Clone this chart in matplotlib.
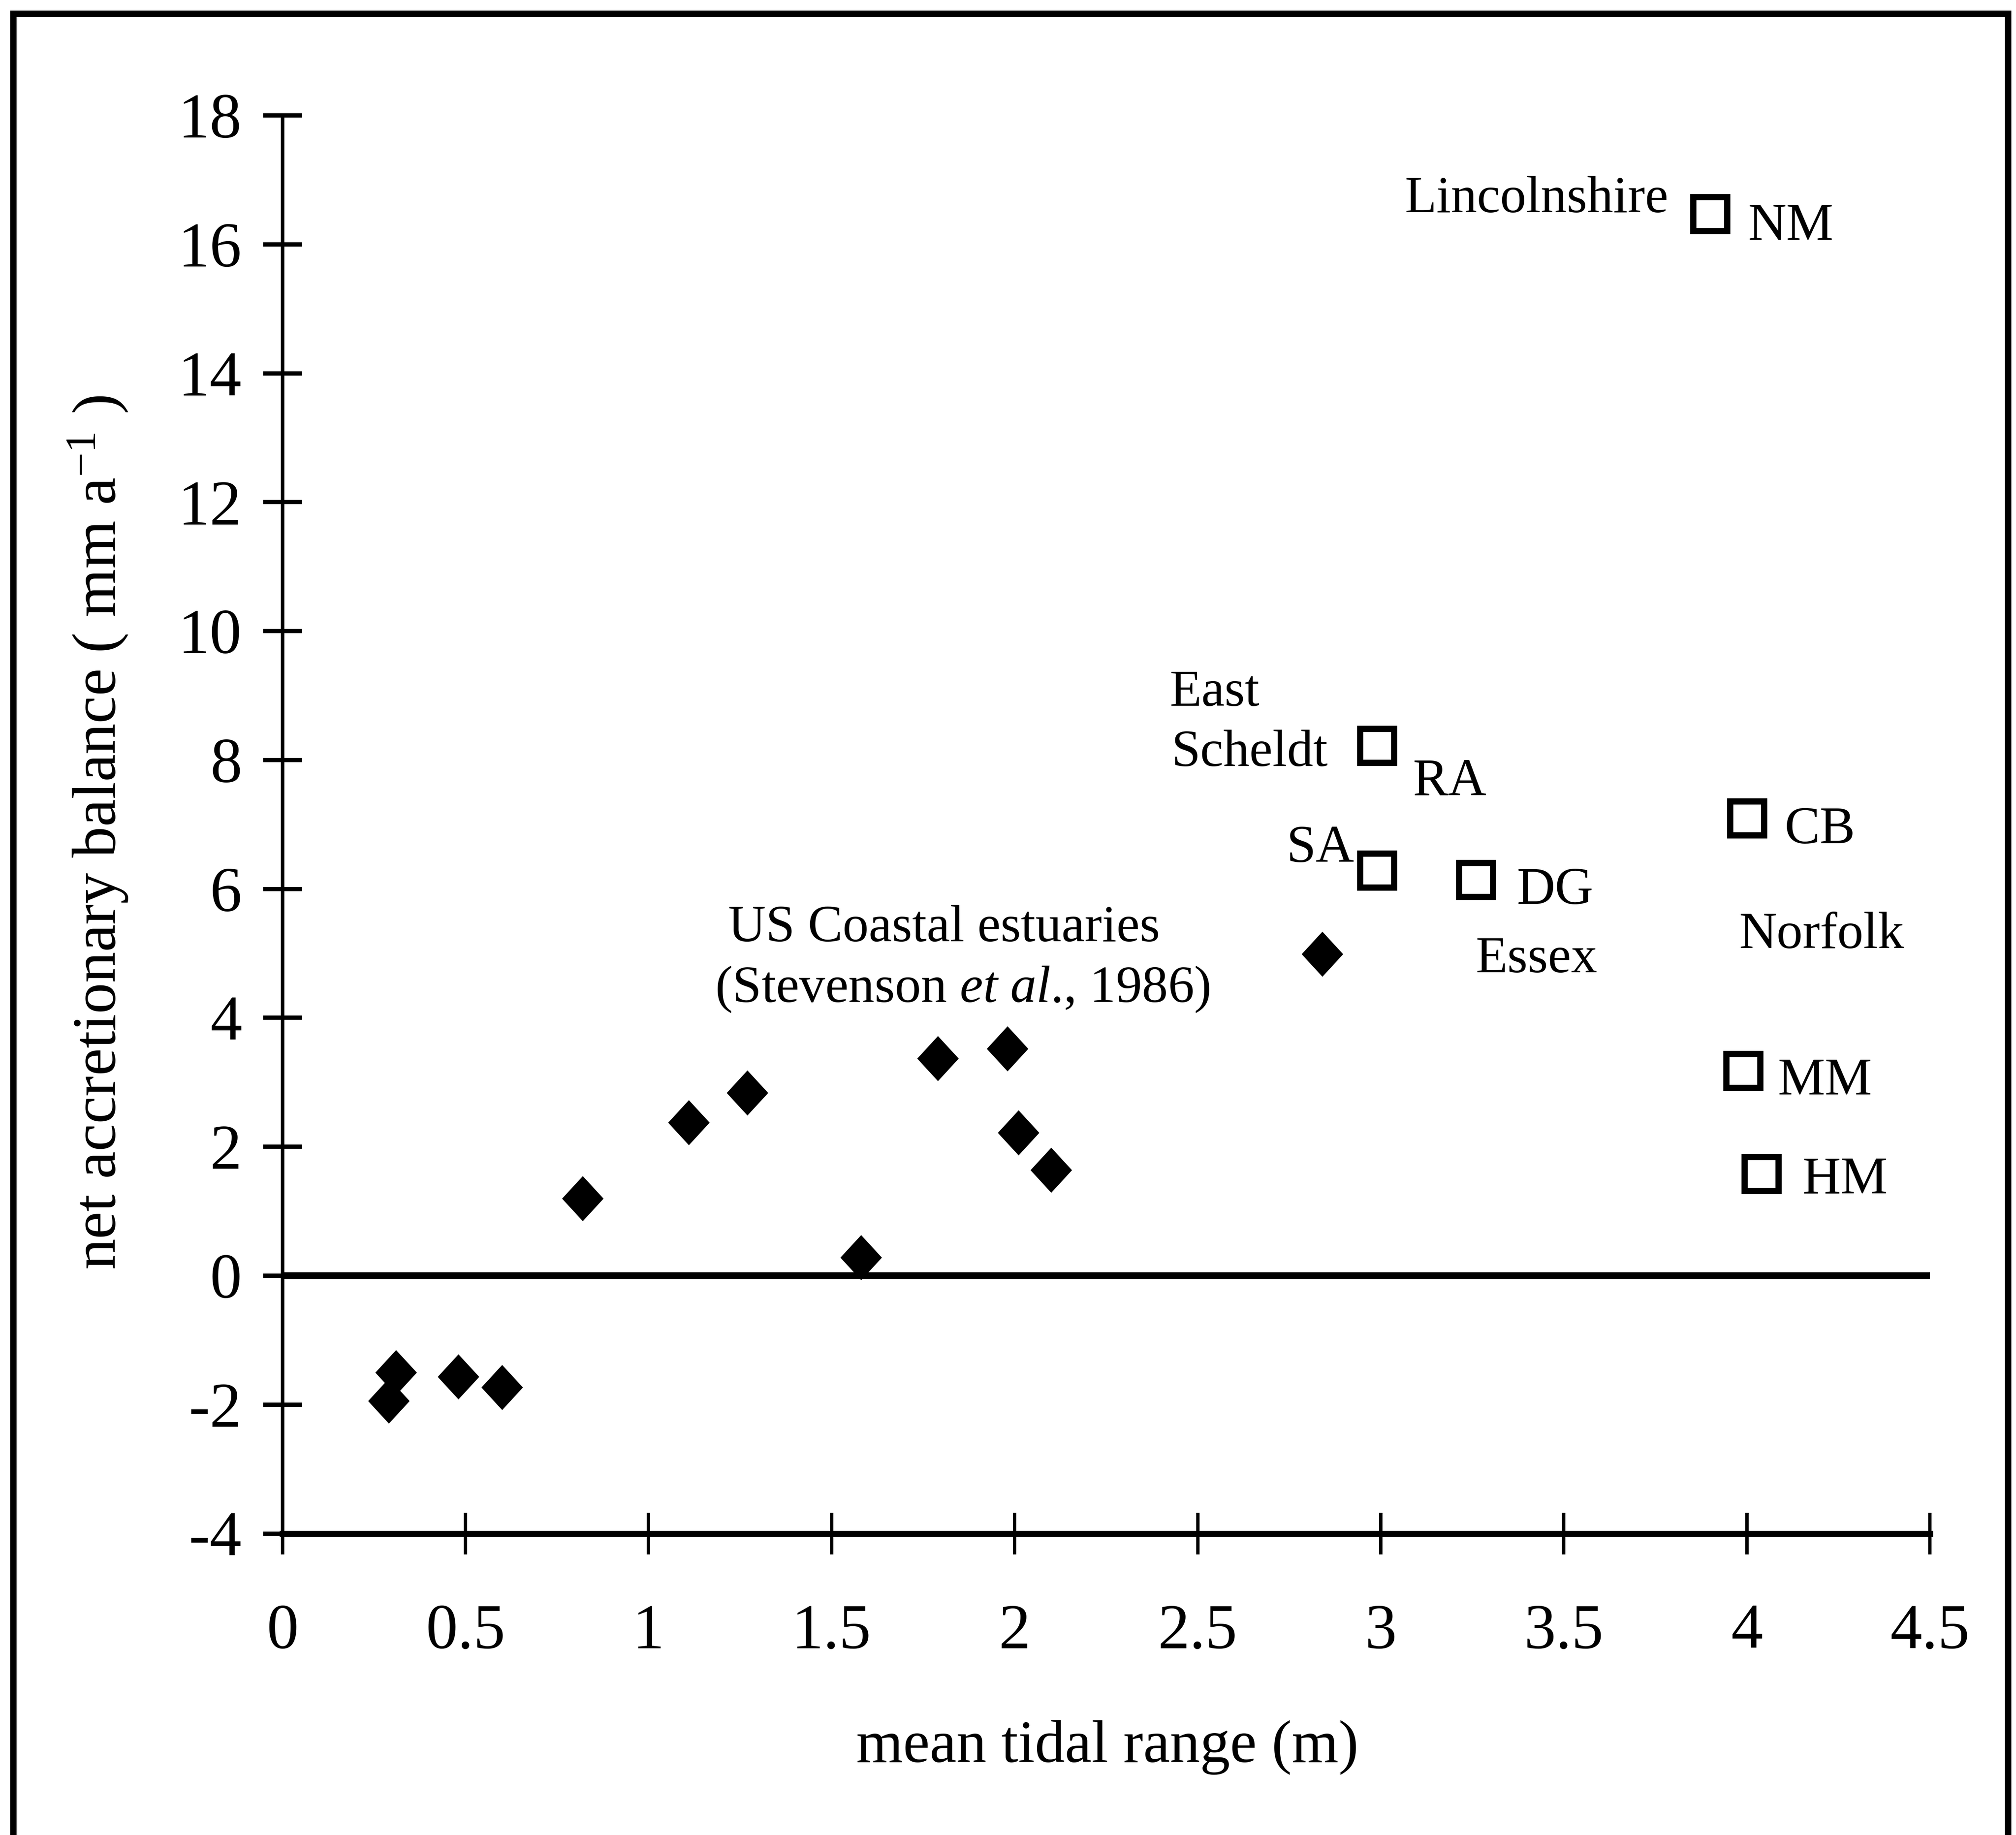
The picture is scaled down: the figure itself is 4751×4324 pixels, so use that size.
import matplotlib
matplotlib.use("Agg")
import matplotlib.pyplot as plt
from matplotlib.patches import Rectangle

plt.rcParams['font.family'] = ['Liberation Serif', 'DejaVu Serif']
plt.rcParams['mathtext.fontset'] = 'custom'
plt.rcParams['mathtext.rm'] = 'Liberation Serif'
plt.rcParams['mathtext.it'] = 'Liberation Serif:italic'

# US coastal estuaries (Stevenson et al., 1986)
us_range = [0.29, 0.31, 0.48, 0.60, 0.82, 1.11, 1.27, 1.58, 1.79, 1.98, 2.01, 2.10, 2.84]
us_balance = [-1.94, -1.50, -1.57, -1.73, 1.20, 2.38, 2.84, 0.28, 3.37, 3.52, 2.22, 1.64, 4.99]

# european marsh sites
site_codes = ["NM", "RA", "SA", "DG", "CB", "MM", "HM"]
site_range = [3.90, 2.99, 2.99, 3.26, 4.00, 3.99, 4.04]
site_balance = [16.47, 8.22, 6.29, 6.14, 7.10, 3.18, 1.58]

x_ticks = [0, 0.5, 1, 1.5, 2, 2.5, 3, 3.5, 4, 4.5]
x_tick_labels = ["0", "0.5", "1", "1.5", "2", "2.5", "3", "3.5", "4", "4.5"]
y_ticks = [-4, -2, 0, 2, 4, 6, 8, 10, 12, 14, 16, 18]
y_tick_labels = ["-4", "-2", "0", "2", "4", "6", "8", "10", "12", "14", "16", "18"]

# where the site codes sit (data coords, baseline)
code_x = [4.003, 3.087, 2.927, 3.371, 4.103, 4.084, 4.151]
code_y = [16.07, 7.45, 6.42, 5.77, 6.71, 2.81, 1.28]
code_ha = ["left", "left", "right", "left", "left", "left", "left"]

# region names
regions = ["Lincolnshire", "East", "Scheldt", "Essex", "Norfolk",
           "US Coastal estuaries", r"(Stevenson $\mathit{et\ al}$., 1986)"]
region_x = [3.065, 2.423, 2.428, 3.259, 3.979, 1.218, 1.182]
region_y = [16.50, 8.84, 7.91, 4.71, 5.08, 5.19, 4.25]

fig = plt.figure(figsize=(4751 / 300, 4324 / 300), dpi=300)
ax = fig.add_axes([0.1401, 0.1643, 0.9573 - 0.1401, 0.9371 - 0.1643])

diamond = [(0, 1), (0.92, 0), (0, -1), (-0.92, 0), (0, 1)]

ax.axhline(0, color='black', lw=3.8, zorder=1.5)
ax.plot(us_range, us_balance, linestyle='none', marker=diamond, ms=25.5,
        mfc='black', mec='black', mew=0, zorder=3)
ax.plot(site_range, site_balance, linestyle='none', marker='s', ms=19,
        mfc='white', mec='black', mew=3.5, zorder=3)

for code, x, y, ha in zip(site_codes, code_x, code_y, code_ha):
    ax.text(x, y, code, fontsize=30, ha=ha, va='baseline')
for name, x, y in zip(regions, region_x, region_y):
    ax.text(x, y, name, fontsize=29.5, ha='left', va='baseline')

ax.set_xlim(0, 4.5)
ax.set_ylim(-4, 18)
ax.set_xticks(x_ticks)
ax.set_xticklabels(x_tick_labels)
ax.set_yticks(y_ticks)
ax.set_yticklabels(y_tick_labels)

for s in ['top', 'right']:
    ax.spines[s].set_visible(False)
ax.spines['left'].set_linewidth(2.0)
ax.spines['bottom'].set_linewidth(3.5)

ax.tick_params(axis='x', direction='inout', length=23.5, width=1.9,
               labelsize=36, pad=28)
ax.tick_params(axis='y', direction='inout', length=22, width=2.4,
               labelsize=36, pad=12)

fig.text(0.5493, 0.0398, "mean tidal range (m)", fontsize=34,
         ha='center', va='baseline')
fig.text(0.0575, 0.5464, r"net accretionary balance ( mm a$^{-1}$ )",
         fontsize=35, rotation=90, rotation_mode='anchor',
         ha='center', va='baseline')

# scanned page frame
fig.patches.append(Rectangle((0.0065, -0.02), 0.9895, 1.0125,
                             transform=fig.transFigure, fill=False,
                             lw=3.6, ec='black'))

fig.savefig("out.png", dpi=300)
